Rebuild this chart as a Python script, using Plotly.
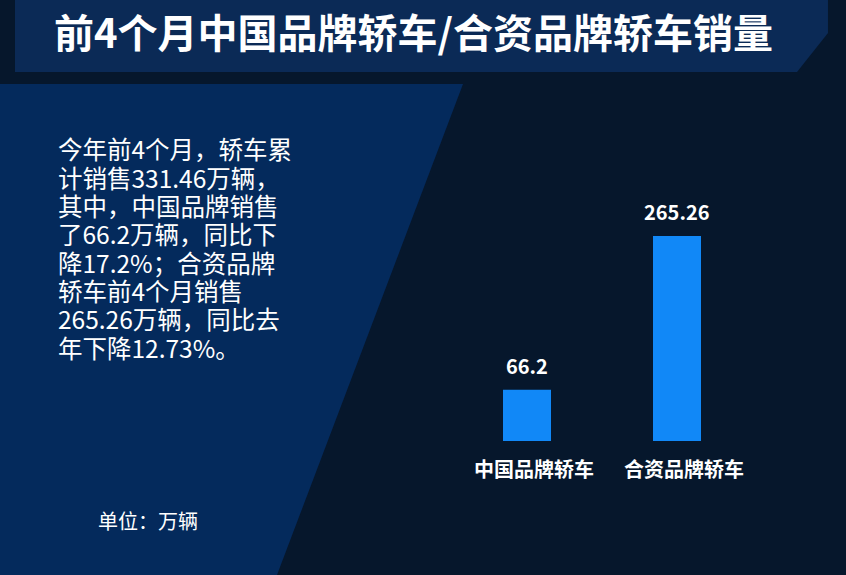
import plotly.graph_objects as go

W, H = 846, 575

# =============================================================================
# Data
# =============================================================================
categories = ["中国品牌轿车", "合资品牌轿车"]
sales = [66.2, 265.26]
value_labels = ["66.2", "265.26"]

title_text = "前4个月中国品牌轿车/合资品牌轿车销量"
note_lines = [
    "今年前4个月，轿车累",
    "计销售331.46万辆，",
    "其中，中国品牌销售",
    "了66.2万辆，同比下",
    "降17.2%；合资品牌",
    "轿车前4个月销售",
    "265.26万辆，同比去",
    "年下降12.73%。",
]
unit_text = "单位：万辆"

FONT = "Noto Sans CJK SC"
BG = "#06172c"
BANNER = "#0b2a56"
PANEL = "#042a5c"
BAR = "#1188f7"


def px(x, y):
    # pixel (top-left origin) -> paper coords
    return f"{x / W:.4f},{1 - y / H:.4f}"


def poly(points):
    return "M " + " L ".join(px(x, y) for x, y in points) + " Z"


fig = go.Figure()

fig.add_trace(go.Bar(
    x=categories,
    y=sales,
    width=0.32,
    marker=dict(color=BAR, line=dict(width=0)),
    hoverinfo="skip",
))

# value labels above the bars
for cat, val, lab in zip(categories, sales, value_labels):
    fig.add_annotation(
        x=cat, y=val, text=lab, showarrow=False,
        xref="x", yref="y", yanchor="bottom", yshift=8,
        font=dict(family=FONT, size=20, color="white", weight="bold"),
    )

shapes = [
    # title banner
    dict(type="path", xref="paper", yref="paper", layer="below",
         path=poly([(15, 0), (828, 0), (828, 33), (797, 72), (15, 72)]),
         fillcolor=BANNER, line=dict(width=0)),
    # slanted left panel
    dict(type="path", xref="paper", yref="paper", layer="below",
         path=poly([(0, 84), (463, 84), (277, 575), (0, 575)]),
         fillcolor=PANEL, line=dict(width=0)),
]

annotations = [
    dict(text=title_text, x=413 / W, y=1 - 31 / H, xref="paper", yref="paper",
         showarrow=False, xanchor="center", yanchor="middle",
         font=dict(family=FONT, size=40, color="white", weight="bold")),
    dict(text=unit_text, x=96 / W, y=1 - 520 / H, xref="paper", yref="paper",
         showarrow=False, xanchor="left", yanchor="middle",
         font=dict(family=FONT, size=20, color="white")),
]

# the paragraph, one line per annotation
for i, line in enumerate(note_lines):
    annotations.append(dict(
        text=line, x=56 / W, y=1 - (149 + 28.3 * i) / H,
        xref="paper", yref="paper", showarrow=False,
        xanchor="left", yanchor="middle",
        font=dict(family=FONT, size=24.5, color="white"),
    ))

fig.update_layout(
    width=W, height=H,
    margin=dict(l=0, r=0, t=0, b=0),
    paper_bgcolor=BG,
    plot_bgcolor="rgba(0,0,0,0)",
    showlegend=False,
    shapes=shapes,
    annotations=fig.layout.annotations + tuple(annotations),
    xaxis=dict(
        domain=[452 / W, 752 / W],
        range=[-0.5, 1.5],
        showgrid=False, zeroline=False, showline=False,
        ticks="outside", ticklen=11, tickcolor="rgba(0,0,0,0)",
        ticklabelshift=7,
        tickfont=dict(family=FONT, size=20, color="white", weight="bold"),
        fixedrange=True,
    ),
    yaxis=dict(
        domain=[(H - 441) / H, (H - 209.2) / H],
        range=[0, 300],
        visible=False,
        fixedrange=True,
    ),
)

fig.write_html(
    "out.html",
    config={"displayModeBar": False},
    post_script="document.body.style.margin='0';",
)
